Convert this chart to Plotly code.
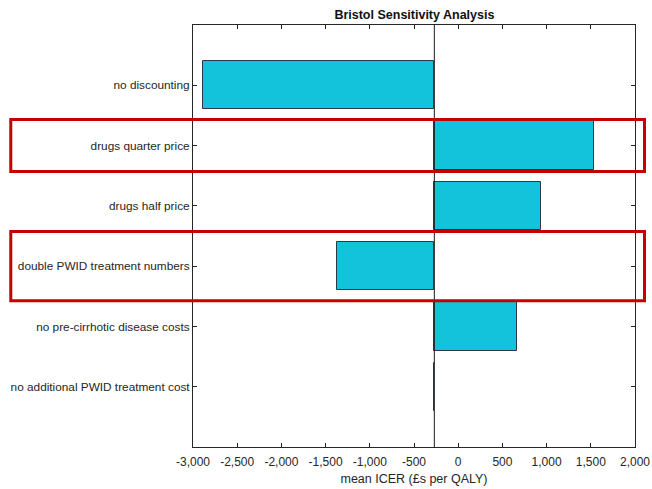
import plotly.graph_objects as go

# Sensitivity scenarios, top to bottom
scenarios = [
    "no discounting",
    "drugs quarter price",
    "drugs half price",
    "double PWID treatment numbers",
    "no pre-cirrhotic disease costs",
    "no additional PWID treatment cost",
]
# Mean ICER under each scenario (£ per QALY)
scenario_icer = [-2887, 1536, 936, -1366, 668, -270]
# Base-case mean ICER that every bar starts from
base_icer = -270

x_ticks = [-3000, -2500, -2000, -1500, -1000, -500, 0, 500, 1000, 1500, 2000]
x_tick_labels = ["-3,000", "-2,500", "-2,000", "-1,500", "-1,000", "-500",
                 "0", "500", "1,000", "1,500", "2,000"]

# Scenarios picked out with a red frame
highlighted = ["drugs quarter price", "double PWID treatment numbers"]

positions = list(range(1, len(scenarios) + 1))
text_col = "#262626"
family = "Liberation Sans, Arial, sans-serif"
font = dict(family=family, size=12, color=text_col)

fig = go.Figure()
fig.add_trace(go.Bar(
    orientation="h",
    y=positions,
    x=[v - base_icer for v in scenario_icer],
    base=[base_icer] * len(scenario_icer),
    width=0.8,
    marker=dict(color="#12C3DB", line=dict(color="#2a3a40", width=1)),
    showlegend=False,
))

# base-case reference line
fig.add_shape(type="line", xref="x", yref="paper", x0=base_icer, x1=base_icer,
              y0=0, y1=1, line=dict(color="#1a1a1a", width=1), layer="above")

# red frames around highlighted rows (paper coordinates so they span the labels)
L, R, T, B = 193.3, 635.5, 25.3, 447.0
fig_w, fig_h = 652, 489
y_min, y_max = 0, 7
for name in highlighted:
    pos = positions[scenarios.index(name)]
    yc_px = T + (pos - y_min) / (y_max - y_min) * (B - T)
    half = 26 if name == "drugs quarter price" else 34.5
    top_px, bot_px = yc_px - half, yc_px + half
    fig.add_shape(
        type="rect", xref="paper", yref="paper",
        x0=(11 - L) / (R - L), x1=(645 - L) / (R - L),
        y0=(B - bot_px) / (B - T), y1=(B - top_px) / (B - T),
        line=dict(color="#C40000", width=3), fillcolor="rgba(0,0,0,0)", layer="above",
    )

fig.update_layout(
    width=fig_w, height=fig_h,
    margin=dict(l=L, r=fig_w - R, t=T, b=fig_h - B, autoexpand=False),
    paper_bgcolor="white", plot_bgcolor="white",
    font=font,
    title=dict(text="<b>Bristol Sensitivity Analysis</b>", x=(L + R) / 2 / fig_w,
               xanchor="center", y=1 - 15 / fig_h, yanchor="middle",
               font=dict(family=family, size=12.5, color="#111")),
    bargap=0,
)
fig.update_xaxes(
    range=[-3000, 2000], tickvals=x_ticks, ticktext=x_tick_labels,
    ticks="inside", ticklen=4, tickcolor=text_col, mirror="ticks",
    showline=True, linecolor=text_col, linewidth=1, showgrid=False, zeroline=False,
    title=dict(text="mean ICER (£s per QALY)", standoff=5,
               font=dict(family=family, size=12.5, color=text_col)),
    tickfont=font, automargin=False, ticklabelstandoff=4,
)
fig.update_yaxes(
    range=[y_max, y_min], tickvals=positions, ticktext=scenarios,
    ticks="inside", ticklen=4, tickcolor=text_col, mirror="ticks",
    showline=True, linecolor=text_col, linewidth=1, showgrid=False, zeroline=False,
    tickfont=dict(family=family, size=11.8, color=text_col), automargin=False,
)

fig.write_html("out.html")
